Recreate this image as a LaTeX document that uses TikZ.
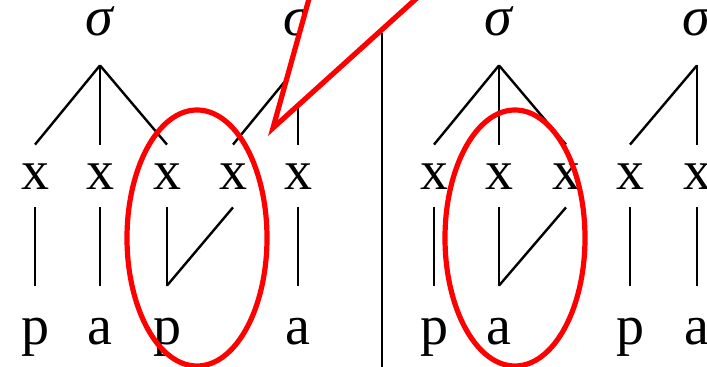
\documentclass[tikz,border=0pt]{standalone}
\usepackage{fontspec}
\setmainfont{Liberation Serif}
\tikzset{
  seg/.style    = {font=\fontsize{28}{30}\selectfont, inner sep=0pt, anchor=base},
  sig/.style    = {seg, text depth=14.5pt},
  slot/.style   = {seg, text height=22.5pt, text depth=8.5pt},
  melody/.style = {seg, text height=29.5pt},
  assoc/.style  = {line width=1.2pt, black},
  ring/.style   = {red, line width=2.6pt},
}
\begin{document}
\begin{tikzpicture}[x=0.5pt, y=-0.5pt]
  \useasboundingbox (0,0) rectangle (707,367);
  % syllables, timing slots and segments
  \foreach \n/\a in {1/100, 2/298, 3/499, 4/697}
    \node[sig] (s\n) at (\a,36) {\textit{σ}};
  \foreach \n/\a in {1/35,2/100,3/167,4/233,5/298,6/434,7/499,8/566,9/630,10/697}
    \node[slot] (x\n) at (\a,190) {x};
  \foreach \n/\a/\t in {1/35/p,2/100/a,3/167/p,5/298/a,6/434/p,7/499/a,9/630/p,10/697/a}
    \node[melody] (m\n) at (\a,345) {\t};
  % association lines
  \foreach \s/\x in {1/1,1/2,1/3,2/4,2/5,3/6,3/7,3/8,4/9,4/10}
    \draw[assoc] (s\s.south) -- (x\x.north);
  \foreach \n in {1,2,3,5,6,7,9,10}
    \draw[assoc] (x\n.south) -- (m\n.north);
  \draw[assoc] (m3.north) -- (x4.south);
  \draw[assoc] (m7.north) -- (x8.south);
  % divider
  \coordinate (divtop) at (382,33);
  \coordinate (divbot) at (382,372);
  \draw[assoc] (divtop) -- (divbot);
  % red marks
  \draw[ring] (197,238) ellipse [x radius=35pt, y radius=64pt];
  \draw[ring] (515,238) ellipse [x radius=35pt, y radius=64pt];
  \coordinate (tip) at (273,128);
  \filldraw[ring, fill=white] (312,-12) -- (tip) -- (428,-12);
\end{tikzpicture}
\end{document}
